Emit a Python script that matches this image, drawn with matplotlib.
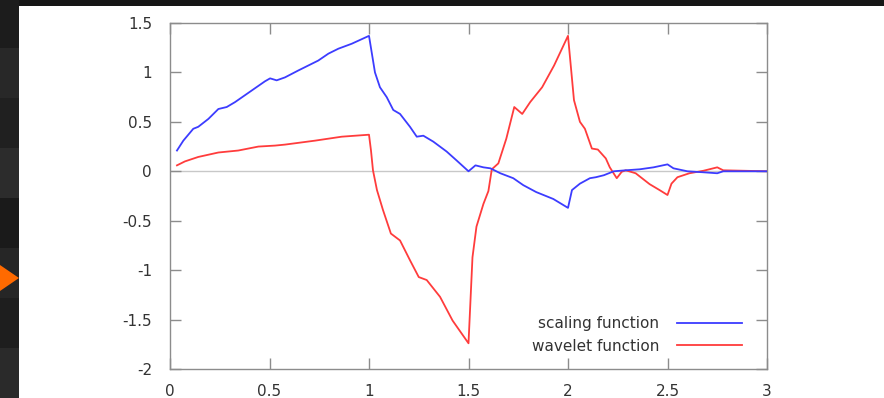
import matplotlib
matplotlib.use("Agg")
import matplotlib.pyplot as plt
from matplotlib.patches import Rectangle, Polygon

# scaling function
x_phi = [0.035, 0.067, 0.117, 0.142, 0.193, 0.243, 0.285, 0.327, 0.377, 0.427,
         0.477, 0.503, 0.536, 0.578, 0.645, 0.695, 0.745, 0.796, 0.846, 0.913,
         1.0, 1.03, 1.055, 1.089, 1.122, 1.156, 1.206, 1.24, 1.273, 1.323,
         1.39, 1.44, 1.50, 1.535, 1.575, 1.61, 1.66, 1.725, 1.775, 1.84,
         1.926, 2.0, 2.02, 2.06, 2.11, 2.14, 2.18, 2.23, 2.29, 2.36,
         2.43, 2.50, 2.53, 2.60, 2.68, 2.75, 2.78, 3.0]
y_phi = [0.21, 0.31, 0.43, 0.45, 0.53, 0.63, 0.65, 0.70, 0.77, 0.84,
         0.91, 0.94, 0.92, 0.95, 1.02, 1.07, 1.12, 1.19, 1.24, 1.29,
         1.37, 1.00, 0.85, 0.75, 0.62, 0.58, 0.45, 0.35, 0.36, 0.30,
         0.20, 0.11, 0.00, 0.06, 0.04, 0.03, -0.02, -0.07, -0.14, -0.21,
         -0.28, -0.37, -0.19, -0.125, -0.07, -0.06, -0.04, 0.00, 0.01, 0.02,
         0.04, 0.07, 0.03, 0.00, -0.01, -0.02, 0.0, 0.0]

# wavelet function
x_psi = [0.035, 0.075, 0.142, 0.243, 0.343, 0.444, 0.528, 0.578, 0.729, 0.863,
         1.0, 1.01, 1.02, 1.04, 1.07, 1.11, 1.156, 1.206, 1.25, 1.29,
         1.357, 1.42, 1.50, 1.52, 1.54, 1.575, 1.60, 1.617, 1.65, 1.69,
         1.73, 1.77, 1.81, 1.87, 1.93, 2.0, 2.03, 2.06, 2.085, 2.12,
         2.15, 2.19, 2.21, 2.245, 2.27, 2.29, 2.34, 2.41, 2.46, 2.50,
         2.52, 2.55, 2.61, 2.68, 2.75, 2.78, 3.0]
y_psi = [0.06, 0.10, 0.145, 0.19, 0.21, 0.25, 0.26, 0.27, 0.31, 0.35,
         0.37, 0.21, 0.01, -0.19, -0.39, -0.63, -0.70, -0.90, -1.07, -1.10,
         -1.27, -1.51, -1.74, -0.87, -0.56, -0.33, -0.20, 0.02, 0.08, 0.33,
         0.65, 0.58, 0.70, 0.85, 1.07, 1.37, 0.72, 0.50, 0.43, 0.23,
         0.22, 0.13, 0.04, -0.07, -0.005, 0.01, -0.02, -0.13, -0.19, -0.24,
         -0.125, -0.06, -0.02, 0.005, 0.04, 0.01, 0.0]

xticks = [0, 0.5, 1, 1.5, 2, 2.5, 3]
yticks = [-2, -1.5, -1, -0.5, 0, 0.5, 1, 1.5]

fig = plt.figure(figsize=(8.84, 3.98), dpi=100, facecolor='#161616')

# slide background: white area, dark strips, orange bullet
W, H = 884, 398
fig.patches.append(Rectangle((19 / W, 0), 1 - 19 / W, 392 / H,
                             transform=fig.transFigure, facecolor='white',
                             edgecolor='none', zorder=-2))
for i, g in enumerate(['#2a2a2a', '#1e1e1e', '#262626', '#1a1a1a', '#2c2c2c',
                       '#202020', '#282828', '#1c1c1c']):
    fig.patches.append(Rectangle((0, i * 50 / H), 19 / W, 50 / H,
                                 transform=fig.transFigure, facecolor=g,
                                 edgecolor='none', zorder=-2))
fig.patches.append(Polygon([(0, 1 - 265 / H), (19 / W, 1 - 278 / H), (0, 1 - 291 / H)],
                           closed=True, transform=fig.transFigure,
                           facecolor='#ff6a00', edgecolor='none', zorder=-1))

ax = fig.add_axes([170 / W, 29 / H, 597 / W, 346 / H])
ax.set_zorder(2)
ax.set_facecolor('white')

ax.axhline(0, color='#c8c8c8', lw=1.0, zorder=1)
ax.plot(x_phi, y_phi, color='#3c3cff', lw=1.3, label='scaling function', zorder=3)
ax.plot(x_psi, y_psi, color='#ff3c3c', lw=1.3, label='wavelet function', zorder=2)

ax.set_xlim(0, 3)
ax.set_ylim(-2, 1.5)
ax.set_xticks(xticks)
ax.set_xticklabels(['0', '0.5', '1', '1.5', '2', '2.5', '3'])
ax.set_yticks(yticks)
ax.set_yticklabels(['-2', '-1.5', '-1', '-0.5', '0', '0.5', '1', '1.5'])

for s in ax.spines.values():
    s.set_color('#8c8c8c')
    s.set_linewidth(1.0)
ax.tick_params(direction='in', length=8, width=1, color='#8c8c8c',
               top=True, right=True, labelsize=11, labelcolor='#333333')
ax.tick_params(axis='y', pad=13)
ax.tick_params(axis='x', pad=11)

ax.legend(loc='lower right', bbox_to_anchor=(0.983, 0.0), frameon=False,
          markerfirst=False, fontsize=11, handlelength=4.2, handletextpad=1.2,
          labelspacing=0.5, borderaxespad=0.6, labelcolor='#333333')

fig.savefig('out.png', dpi=100, facecolor=fig.get_facecolor())
